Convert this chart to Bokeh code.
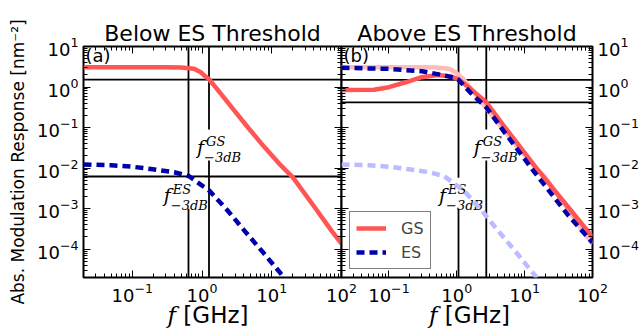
from bokeh.plotting import figure
from bokeh.layouts import row, column
from bokeh.models import (LogAxis, FixedTicker, Span, Label, Legend, LegendItem, Range1d, Div)
from bokeh.embed import file_html
from bokeh.resources import INLINE

# ---------------- data ----------------
# Panel (a): below ES threshold
freq_gs_a = [0.02, 0.1, 0.3, 0.5, 0.77, 0.96, 1.08, 1.27, 1.87, 2.91, 4.53, 7.85, 13.6, 20.1, 41.2, 71.7, 100]
resp_gs_a = [3.06, 3.06, 3.06, 3.03, 2.81, 2.32, 1.92, 1.53, 0.68, 0.263, 0.102, 0.033, 0.0115, 0.0059, 1.08e-3, 2.86e-4, 1.37e-4]
freq_es_a = [0.02, 0.05, 0.1, 0.184, 0.4, 0.655, 0.96, 1.27, 2.34, 4.05, 7.85, 13.6, 20]
resp_es_a = [0.0123, 0.0118, 0.0108, 0.0095, 0.0079, 0.0063, 0.0039, 0.00278, 8.9e-4, 2.87e-4, 7.6e-5, 2.45e-5, 1.1e-5]

# Panel (b): above ES threshold
freq_gs_b = [0.02, 0.06, 0.1, 0.176, 0.305, 0.53, 0.826, 1.06, 1.6, 2.72, 4.84, 14.6, 44, 100]
resp_gs_b = [0.85, 0.86, 0.99, 1.31, 1.75, 1.99, 1.82, 1.55, 0.9, 0.42, 0.115, 0.0104, 1.08e-3, 2.0e-4]
freq_es_b = [0.02, 0.1, 0.305, 0.594, 0.925, 1.06, 1.6, 2.72, 4.84, 14.6, 44, 100]
resp_es_b = [2.98, 2.81, 2.45, 2.0, 1.7, 1.51, 0.72, 0.316, 0.0843, 0.0072, 6.8e-4, 1.45e-4]

# -3 dB markers: (frequency GHz, level)
f3db_gs_a, lvl_gs_a = 1.26, 1.53
f3db_es_a, lvl_es_a = 0.64, 0.0062
f3db_gs_b, lvl_gs_b = 2.72, 0.42
f3db_es_b, lvl_es_b = 1.06, 1.51

titles = ["Below ES Threshold", "Above ES Threshold"]
panel_tags = ["(a)", "(b)"]
legend_labels = ["GS", "ES"]
y_label = "Abs. Modulation Response [nm\u207b\u00b2]"
x_label_var, x_label_unit = "f", "[GHz]"
x_major = [0.1, 1, 10, 100]
y_major = [1e-4, 1e-3, 1e-2, 1e-1, 1, 10]
X_RANGE = (0.02, 100)
Y_RANGE = (2e-5, 10)

# ---------------- styles ----------------
RED, BLUE, PINK, LBLUE = "#FF5555", "#0000AA", "#FFBBBB", "#BBBBFF"
LW = 4.5
DASH = "8 5"
H = 328
W1, W2, OVER = 361, 320, 40

x_minor = [k * 10.0 ** n for n in range(-2, 2) for k in range(2, 10)]
y_minor = [k * 10.0 ** n for n in range(-5, 1) for k in range(2, 10)]


def xt():
    return FixedTicker(ticks=x_major, minor_ticks=x_minor)


def yt():
    return FixedTicker(ticks=y_major, minor_ticks=y_minor)


def style_axis(ax, ticks, labels=True):
    ax.axis_line_color = None
    ax.major_tick_in = 7
    ax.major_tick_out = 0
    ax.minor_tick_in = 4
    ax.minor_tick_out = 0
    ax.major_tick_line_color = "black"
    ax.minor_tick_line_color = "black"
    ax.major_tick_line_width = 1
    ax.minor_tick_line_width = 1
    ax.major_label_text_font = "DejaVu Sans"
    ax.major_label_text_font_size = "18px"
    ax.major_label_text_color = "black"
    if labels:
        ax.major_label_standoff = 5
    else:
        ax.major_label_overrides = {t: "" for t in ticks}
        ax.major_label_standoff = 0


def make_fig(width, bl, br, yloc):
    p = figure(width=width, height=H, x_axis_type="log", y_axis_type="log",
               x_range=Range1d(*X_RANGE), y_range=Range1d(*Y_RANGE),
               output_backend="svg", toolbar_location=None, y_axis_location=yloc,
               min_border_left=bl, min_border_right=br, min_border_top=46, min_border_bottom=51)
    p.grid.visible = False
    p.outline_line_color = "black"
    p.outline_line_width = 2
    p.xaxis.ticker = xt()
    p.yaxis.ticker = yt()
    style_axis(p.xaxis[0], x_major)
    style_axis(p.yaxis[0], y_major)
    ax_top = LogAxis(ticker=xt())
    style_axis(ax_top, x_major, False)
    p.add_layout(ax_top, "above")
    ax_side = LogAxis(ticker=yt())
    style_axis(ax_side, y_major, False)
    p.add_layout(ax_side, "left" if yloc == "right" else "right")
    p.title.align = "center"
    p.title.text_font = "DejaVu Sans"
    p.title.text_font_size = "22px"
    p.title.text_font_style = "normal"
    p.title.text_color = "black"
    p.title.standoff = 2
    return p


def add_3db(p, f_v, lvl):
    p.add_layout(Span(location=f_v, dimension="height", line_color="black", line_width=1.8, level="underlay"))
    p.add_layout(Span(location=lvl, dimension="width", line_color="black", line_width=1.8, level="underlay"))


def add_fnote(p, x, y, sup):
    p.add_layout(Label(x=x, y=y, text="f", text_font="DejaVu Serif", text_font_style="italic",
                       text_font_size="19px", text_color="black", background_fill_color="white",
                       padding=(1, 34, 6, 3), level="underlay"))
    p.add_layout(Label(x=x, y=y, text=sup, x_offset=10, y_offset=12, text_font="DejaVu Serif",
                       text_font_style="italic", text_font_size="13px", text_color="black",
                       level="underlay"))
    p.add_layout(Label(x=x, y=y, text="\u22123dB", x_offset=8, y_offset=-4, text_font="DejaVu Serif",
                       text_font_style="italic", text_font_size="13px", text_color="black",
                       level="underlay"))


def add_tag(p, tag):
    p.add_layout(Label(x=X_RANGE[0], y=Y_RANGE[1], text=tag, text_baseline="top", x_offset=2, y_offset=2,
                       text_font="DejaVu Sans", text_font_size="18px", text_color="black"))


def xlabel_div(width, inner_left, inner_width):
    html = ('<div style="margin-left:%dpx;width:%dpx;text-align:center;font-family:\'DejaVu Sans\';'
            'font-size:23px;line-height:26px;color:black;white-space:nowrap;">'
            '<span style="font-family:\'DejaVu Serif\';font-style:italic;">%s</span> %s</div>'
            % (inner_left, inner_width, x_label_var, x_label_unit))
    return Div(text=html, width=width, height=26, margin=0)


# ---------------- panel (a) ----------------
p1 = make_fig(W1, 83, 20, "left")
p1.title.text = titles[0]
p1.yaxis[0].axis_label = y_label
p1.yaxis[0].axis_label_text_font = "DejaVu Sans"
p1.yaxis[0].axis_label_text_font_size = "17px"
p1.yaxis[0].axis_label_text_font_style = "normal"
p1.yaxis[0].axis_label_text_color = "black"
p1.yaxis[0].axis_label_standoff = 6
add_3db(p1, f3db_gs_a, lvl_gs_a)
add_3db(p1, f3db_es_a, lvl_es_a)
add_fnote(p1, 0.82, 0.0153, "GS")
add_fnote(p1, 0.274, 1.0e-3, "ES")
p1.line(freq_gs_a, resp_gs_a, line_color=RED, line_width=LW)
p1.line(freq_es_a, resp_es_a, line_color=BLUE, line_width=LW, line_dash=DASH)
add_tag(p1, panel_tags[0])

# ---------------- panel (b) ----------------
p2 = make_fig(W2, 20, 43, "right")
p2.title.text = titles[1]
p2.border_fill_color = None
p2.margin = (0, 0, 0, -OVER)
add_3db(p2, f3db_gs_b, lvl_gs_b)
add_3db(p2, f3db_es_b, lvl_es_b)
add_fnote(p2, 1.72, 0.0153, "GS")
add_fnote(p2, 0.53, 1.0e-3, "ES")
p2.line(freq_es_a, resp_es_a, line_color=LBLUE, line_width=LW, line_dash=DASH)
p2.line(freq_gs_a, resp_gs_a, line_color=PINK, line_width=LW)
r_gs = p2.line(freq_gs_b, resp_gs_b, line_color=RED, line_width=LW)
r_es = p2.line(freq_es_b, resp_es_b, line_color=BLUE, line_width=LW, line_dash=DASH)
add_tag(p2, panel_tags[1])

legend = Legend(items=[LegendItem(label=legend_labels[0], renderers=[r_gs]),
                       LegendItem(label=legend_labels[1], renderers=[r_es])],
                location="bottom_left", margin=8, padding=6, spacing=4,
                glyph_width=30, glyph_height=20, label_height=20, label_standoff=15,
                label_text_font="DejaVu Sans", label_text_font_size="16px",
                border_line_color="black", border_line_width=1,
                background_fill_color="white", background_fill_alpha=1)
p2.add_layout(legend)

# x-axis labels (italic f + unit), overlaid on the bottom border of both panels
d1 = xlabel_div(W1, 79, 258)
d2 = xlabel_div(W2 - OVER, 0, 217)
labels_row = row(d1, d2, margin=(-26, 0, 0, 0))

layout = column(row(p1, p2), labels_row)
open("out.html", "w").write(file_html(layout, INLINE))
